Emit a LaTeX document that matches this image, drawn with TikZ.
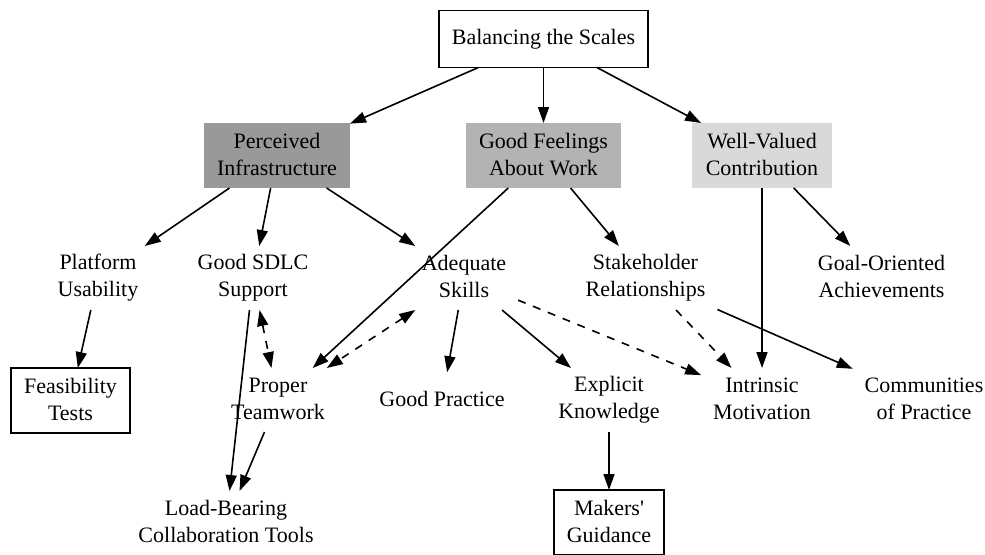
\documentclass[tikz,border=0pt]{standalone}
\usepackage{fontspec}
\setmainfont{Liberation Serif}
\usepackage{xcolor}
\usetikzlibrary{arrows.meta}
\definecolor{mydarkgray}{HTML}{999999}
\definecolor{mymidgray}{HTML}{B3B3B3}
\definecolor{mylightgray}{HTML}{D9D9D9}
\newcommand{\nodestrut}{\rule[-1.55pt]{0pt}{13.5pt}}
\tikzset{
  >={Triangle[length=8pt,width=5.5pt]},  % Punte piene
  % Nodi del grafo
  node base/.style={align=center,inner xsep=6pt,inner ysep=0pt,outer sep=0pt,
    minimum height=32pt,font=\fontsize{11}{13.5}\selectfont},
  node plain/.style={node base,execute at begin node=\nodestrut,execute at end node=\nodestrut},
  node single/.style={node base,execute at begin node=\strut},
  node box/.style={node plain,draw=black,line width=0.8pt,minimum height=32.5pt},
  node theme/.style={node plain,minimum height=32.5pt},
  node theme 1/.style={node theme,fill=mydarkgray,minimum width=73pt},
  node theme 2/.style={node theme,fill=mymidgray,minimum width=77.5pt},
  node theme 3/.style={node theme,fill=mylightgray,minimum width=70pt},
  % Connessioni
  connect arrow/.style={->,line width=0.8pt,black},
  connect dashed/.style={<->,line width=0.8pt,black,dash pattern=on 4pt off 4pt},
  connect dashed one/.style={connect dashed,-{Triangle[length=8pt,width=5.5pt]}}
}
\begin{document}
\begin{tikzpicture}[x=0.5pt,y=-0.5pt]
    \useasboundingbox (0,0) rectangle (985,554);
    \node[node single, draw=black, line width=0.8pt, minimum width=104.5pt, minimum height=28.5pt] (Scales) at (543.5,39) {Balancing the Scales};
    \node[node theme 1] (Infra)   at (277,  155.5) {Perceived\\Infrastructure};
    \node[node theme 2] (Feel)    at (543.5,155.5) {Good Feelings\\About Work};
    \node[node theme 3] (Valued)  at (762,  155.5) {Well-Valued\\Contribution};
    \node[node plain] (Platform)  at (98,   278) {Platform\\Usability};
    \node[node plain] (SDLC)      at (253,  278) {Good SDLC\\Support};
    \node[node plain] (Skills)    at (464,  278) {Adequate\\Skills};
    \node[node plain] (Stake)     at (645.5,278) {Stakeholder\\Relationships};
    \node[node plain] (Goal)      at (881.5,278) {Goal-Oriented\\Achievements};
    \node[node box, minimum width=59.5pt] (Feasib) at (70.5,400.5) {Feasibility\\Tests};
    \node[node plain] (Team)      at (278,  400) {Proper\\Teamwork};
    \node[node single, minimum height=28.8pt] (Practice) at (442,401) {Good Practice};
    \node[node plain] (Explicit)  at (609,  400) {Explicit\\Knowledge};
    \node[node plain] (Intrinsic) at (762,  400) {Intrinsic\\Motivation};
    \node[node plain] (Commun)    at (924,  400) {Communities\\of Practice};
    \node[node plain] (Tools)     at (226,  523) {Load-Bearing\\Collaboration Tools};
    \node[node box, minimum width=55pt] (Makers) at (609,522.5) {Makers\textquotesingle\\Guidance};
    \draw[connect arrow] (Scales) -- (Infra);
    \draw[connect arrow] (Scales) -- (Feel);
    \draw[connect arrow] (Scales) -- (Valued);
    \draw[connect arrow] (Infra) -- (Platform);
    \draw[connect arrow] (Infra) -- (SDLC);
    \draw[connect arrow] (Infra) -- (Skills);
    \draw[connect arrow] (Feel) -- (Team);
    \draw[connect arrow] (Feel) -- (Stake);
    \draw[connect arrow] (Valued) -- (Intrinsic);
    \draw[connect arrow] (Valued) -- (Goal);
    \draw[connect arrow] (Platform) -- (Feasib);
    \draw[connect arrow] (SDLC) -- (Tools);
    \draw[connect dashed] (SDLC) -- (Team);
    \draw[connect dashed] (Skills) -- (Team);
    \draw[connect arrow] (Skills) -- (Practice);
    \draw[connect arrow] (Skills) -- (Explicit);
    \draw[connect dashed one] (Skills) -- (Intrinsic);
    \draw[connect dashed one] (Stake) -- (Intrinsic);
    \draw[connect arrow] (Stake) -- (Commun);
    \draw[connect arrow] (Team) -- (Tools);
    \draw[connect arrow] (Explicit) -- (Makers);
  \end{tikzpicture}
\end{document}
